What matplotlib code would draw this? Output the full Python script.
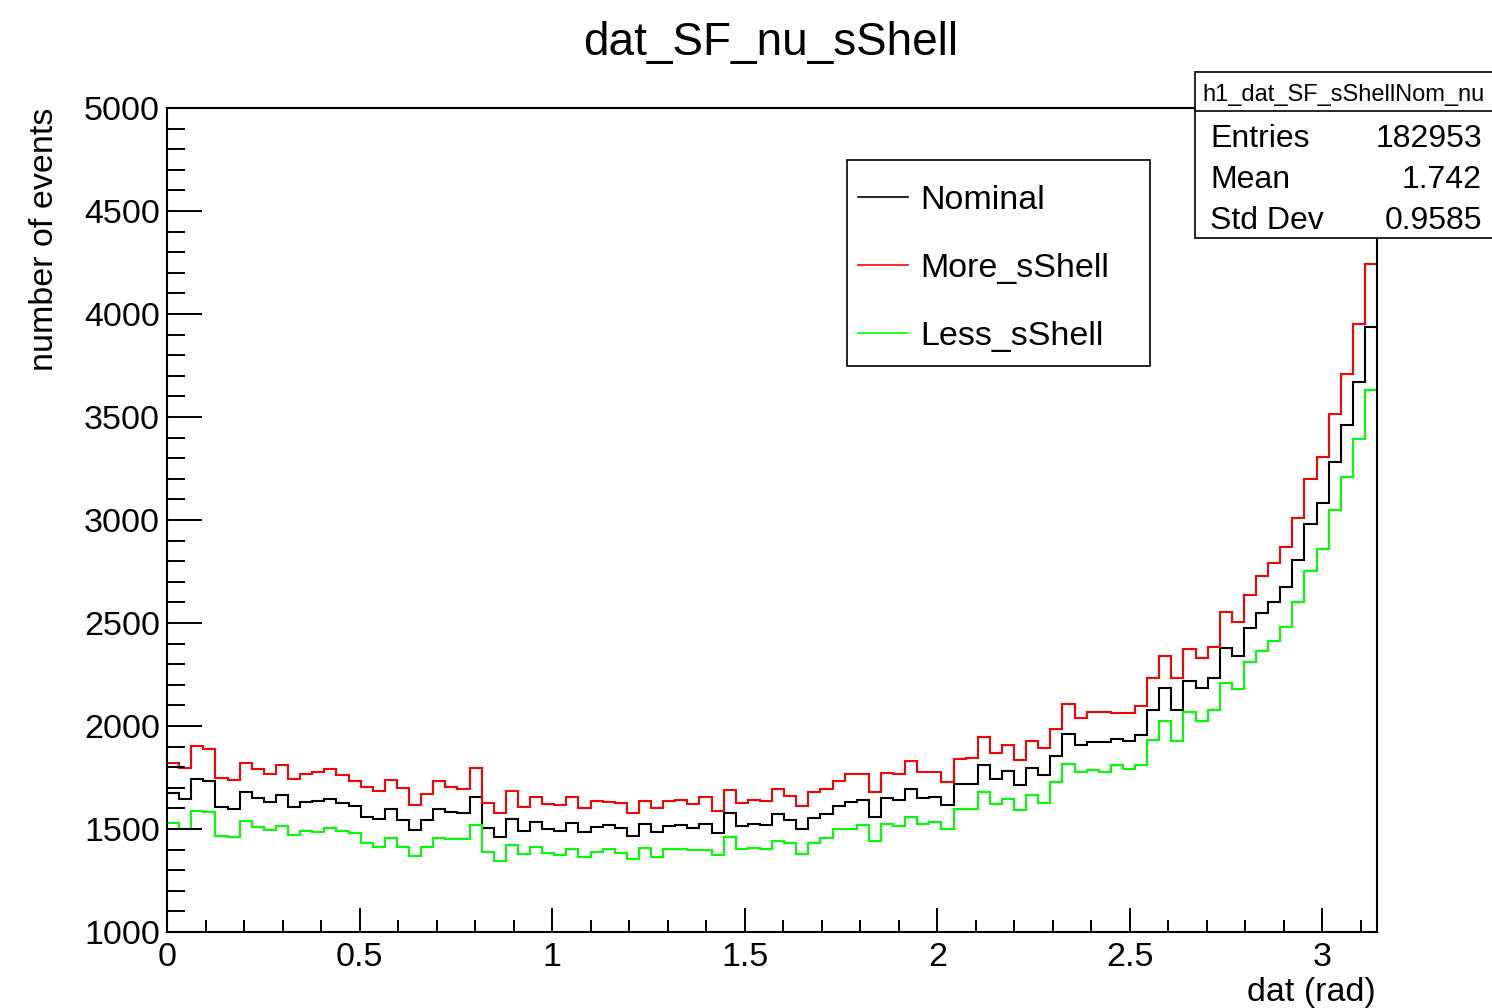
import numpy as np
import matplotlib.pyplot as plt
from matplotlib.patches import Rectangle
from matplotlib.lines import Line2D
from matplotlib.ticker import MultipleLocator, FuncFormatter

#--------------------------------
# Configuration
#--------------------------------
plt.rcParams['font.family'] = ['Liberation Sans', 'DejaVu Sans']

W, H = 1492, 1008

# histogram binning: 100 bins from 0 to pi
n_bins = 100
x_min, x_max = 0.0, np.pi

#--------------------------------
# Bin contents
#--------------------------------
nominal = [
    1676, 1647, 1744, 1734, 1608, 1598, 1681, 1650, 1630, 1663,
    1608, 1630, 1634, 1646, 1628, 1612, 1560, 1547, 1599, 1544,
    1495, 1544, 1595, 1582, 1576, 1657, 1503, 1463, 1549, 1490,
    1534, 1498, 1492, 1529, 1484, 1511, 1521, 1506, 1467, 1524,
    1484, 1515, 1521, 1505, 1524, 1482, 1576, 1516, 1526, 1521,
    1571, 1545, 1498, 1552, 1574, 1612, 1633, 1641, 1560, 1650,
    1641, 1693, 1652, 1655, 1615, 1720, 1720, 1811, 1743, 1780,
    1714, 1796, 1762, 1854, 1961, 1906, 1924, 1921, 1938, 1927,
    1955, 2079, 2183, 2079, 2220, 2183, 2231, 2379, 2341, 2474,
    2547, 2603, 2673, 2804, 2979, 3084, 3281, 3462, 3670, 3935,
]

more_sshell = [
    1819, 1795, 1903, 1888, 1749, 1739, 1822, 1793, 1768, 1812,
    1744, 1768, 1777, 1790, 1760, 1735, 1706, 1684, 1738, 1697,
    1615, 1670, 1731, 1702, 1696, 1798, 1624, 1579, 1683, 1608,
    1654, 1621, 1618, 1654, 1600, 1634, 1631, 1625, 1576, 1637,
    1603, 1634, 1639, 1620, 1655, 1587, 1689, 1628, 1641, 1637,
    1696, 1660, 1612, 1680, 1696, 1735, 1765, 1765, 1680, 1773,
    1765, 1828, 1775, 1777, 1728, 1841, 1846, 1945, 1867, 1906,
    1835, 1929, 1895, 1984, 2107, 2040, 2068, 2066, 2065, 2063,
    2099, 2231, 2340, 2231, 2375, 2330, 2382, 2552, 2503, 2637,
    2730, 2790, 2867, 3011, 3199, 3306, 3516, 3710, 3951, 4241,
]

less_sshell = [
    1531, 1501, 1589, 1582, 1466, 1460, 1540, 1508, 1495, 1515,
    1472, 1492, 1487, 1506, 1489, 1482, 1430, 1414, 1456, 1411,
    1369, 1414, 1456, 1453, 1451, 1518, 1388, 1346, 1421, 1379,
    1411, 1382, 1375, 1403, 1362, 1390, 1401, 1385, 1356, 1408,
    1364, 1404, 1404, 1398, 1397, 1372, 1461, 1403, 1406, 1401,
    1443, 1430, 1380, 1430, 1456, 1498, 1502, 1518, 1443, 1523,
    1516, 1557, 1526, 1534, 1500, 1595, 1595, 1680, 1621, 1647,
    1592, 1667, 1626, 1727, 1817, 1777, 1788, 1778, 1812, 1793,
    1809, 1934, 2025, 1925, 2068, 2023, 2079, 2211, 2178, 2312,
    2365, 2414, 2482, 2603, 2754, 2859, 3050, 3207, 3393, 3631,
]

labels = ['Nominal', 'More_sShell', 'Less_sShell']
colors = ['black', '#ff0000', '#00ff00']

stats_name = 'h1_dat_SF_sShellNom_nu'
stats_keys = ['Entries', 'Mean', 'Std Dev']
stats_vals = ['182953', '1.742', '0.9585']


# pixel -> figure fraction helpers
def fx(px):
    return px / W


def fy(py):
    return 1 - py / H


#--------------------------------
# Plotting
#--------------------------------
fig = plt.figure(figsize=(W / 100, H / 100), dpi=100)
ax = fig.add_axes([fx(167), fy(932), fx(1377) - fx(167), fy(108) - fy(932)])

edges = np.linspace(x_min, x_max, n_bins + 1)
for vals, lab, col in zip([nominal, more_sshell, less_sshell], labels, colors):
    ax.stairs(vals, edges, baseline=None, color=col, lw=1.5, label=lab)

ax.set_xlim(x_min, x_max)
ax.set_ylim(1000, 5000)

ax.xaxis.set_major_locator(MultipleLocator(0.5))
ax.xaxis.set_minor_locator(MultipleLocator(0.1))
ax.yaxis.set_major_locator(MultipleLocator(500))
ax.yaxis.set_minor_locator(MultipleLocator(100))
ax.xaxis.set_major_formatter(FuncFormatter(lambda v, p: f'{v:g}'))

for s in ax.spines.values():
    s.set_linewidth(1.5)

ax.tick_params(axis='y', which='major', direction='in', length=25, width=1.4,
               right=False, labelsize=24.5, pad=5)
ax.tick_params(axis='y', which='minor', direction='in', length=12.7, width=1.4,
               right=False)
ax.tick_params(axis='x', which='major', direction='in', length=17.5, width=1.4,
               top=False, labelsize=24.5, pad=7)
ax.tick_params(axis='x', which='minor', direction='in', length=8.6, width=1.4,
               top=False)

# titles
fig.text(fx(771), fy(55), 'dat_SF_nu_sShell', ha='center', va='baseline', fontsize=33)
fig.text(fx(45), fy(108), 'number of events', rotation=90, ha='center', va='top',
         fontsize=24.5)
fig.text(fx(1376), fy(1001), 'dat (rad)', ha='right', va='baseline', fontsize=24.5)

# legend (box drawn separately, ROOT style)
handles = [Line2D([], [], color=c, lw=1.2) for c in colors]
ax.legend(handles, labels, loc='upper left', bbox_to_anchor=(fx(858), fy(185)),
          bbox_transform=fig.transFigure, frameon=False, fontsize=24.5,
          handlelength=1.47, handletextpad=0.35, labelspacing=1.09,
          borderpad=0, borderaxespad=0)
fig.add_artist(Rectangle((fx(847), fy(366)), fx(1150) - fx(847), fy(160) - fy(366),
                         transform=fig.transFigure, fill=False, ec='black', lw=1.2))

# stats box
fig.add_artist(Rectangle((fx(1195), fy(238)), fx(1510) - fx(1195), fy(72) - fy(238),
                         transform=fig.transFigure, fc='white', ec='black', lw=1.2,
                         zorder=5))
fig.add_artist(Line2D([fx(1195), fx(1492)], [fy(111), fy(111)],
                      transform=fig.transFigure, color='black', lw=1.2, zorder=6))
fig.text(fx(1344), fy(95), stats_name, ha='center', va='center', fontsize=17, zorder=7)
for i, (k, v) in enumerate(zip(stats_keys, stats_vals)):
    yy = fy(139 + 41 * i)
    fig.text(fx(1210), yy, k, ha='left', va='center', fontsize=23, zorder=7)
    fig.text(fx(1482), yy, v, ha='right', va='center', fontsize=23, zorder=7)

plt.savefig('out.png', dpi=100)
